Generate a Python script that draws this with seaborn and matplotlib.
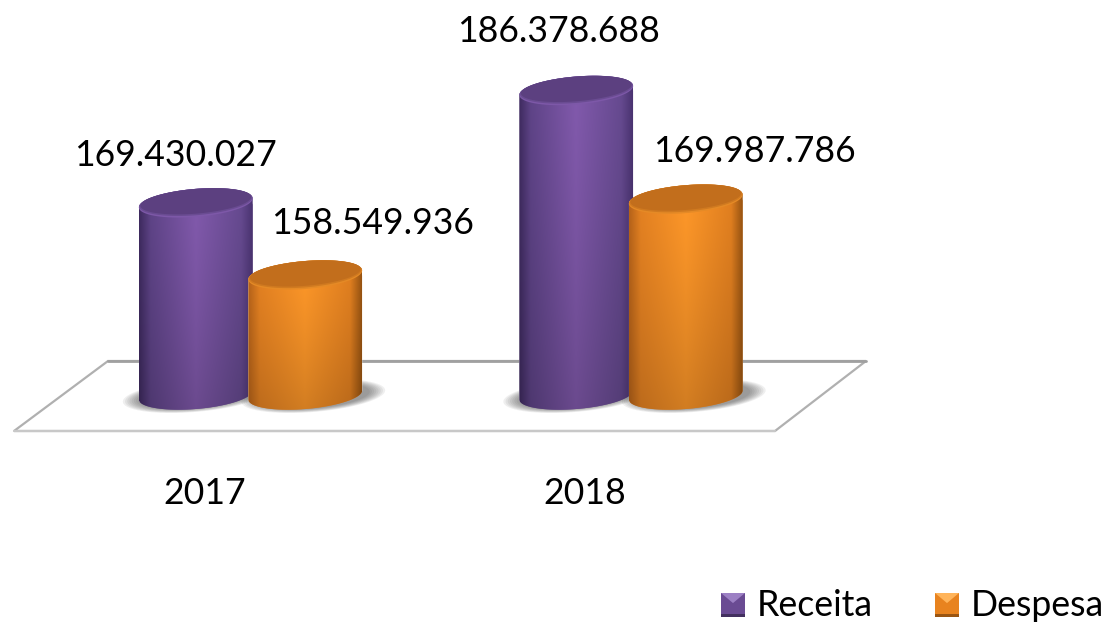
import numpy as np
import pandas as pd
import matplotlib
matplotlib.use("Agg")
import matplotlib.pyplot as plt
import seaborn as sns
from matplotlib.patches import Polygon
from matplotlib.transforms import Affine2D

# 1. data
years = ["2017", "2018"]
series_names = ["Receita", "Despesa"]
receita = [169430027, 186378688]
despesa = [158549936, 169987786]

purple_shades = ["#3f2b60", "#5f4488", "#825aad", "#664a90", "#4b3472"]
orange_shades = ["#b8641a", "#e58222", "#ff9829", "#e28020", "#9a5512"]

df = pd.DataFrame({
    "year": years * 2,
    "serie": [series_names[0]] * 2 + [series_names[1]] * 2,
    "valor": receita + despesa,
})

# 2. layout, all in pixels of the 1106x624 target
W, H = 1106, 624
PX_PER_UNIT = 6.63e-6
REF_VALUE, REF_Y = 158549936, 275
BASE_Y = 395
X0, X_STEP = 250.5, 380.5
FONT_SIZE = 25.7

sns.set_theme(style="white")
plt.rcParams["font.family"] = ["Lato", "DejaVu Sans"]

fig = plt.figure(figsize=(W / 100, H / 100), dpi=100)
ax = fig.add_axes([0, 0, 1, 1])

sns.barplot(data=df, x="year", y="valor", hue="serie", order=years, hue_order=series_names,
            palette=["#6a4b93", "#e8831f"], width=2 * 109.5 / X_STEP, gap=-0.04,
            legend=False, ax=ax)

ax.set_xlim(-X0 / X_STEP, (W - X0) / X_STEP)
ax.set_ylim(REF_VALUE - (H - REF_Y) / PX_PER_UNIT, REF_VALUE + REF_Y / PX_PER_UNIT)
ax.set_autoscale_on(False)
ax.axis("off")

# target pixels (y down) -> display
px = Affine2D().scale(1, -1).translate(0, H)


def to_target(x, y):
    dx, dy = ax.transData.transform((x, y))
    return dx, H - dy


def ellipse(cx, cy, a, b, skew, t0=0, t1=2 * np.pi, n=80):
    t = np.linspace(t0, t1, n)
    xs = a * np.cos(t)
    return np.column_stack([cx + xs, cy + b * np.sin(t) - skew * xs])


def shade(colors, height=60, width=120, fade=0.82):
    stops = [0, 0.1, 0.5, 0.9, 1]
    rgb = np.array([matplotlib.colors.to_rgb(c) for c in colors])
    row = np.column_stack([np.interp(np.linspace(0, 1, width), stops, rgb[:, i]) for i in range(3)])
    down = (1 - (1 - fade) * np.linspace(0, 1, height) ** 1.3)[:, None, None]
    return row[None, :, :] * down


# 3. floor
bars = list(ax.patches)
ax.add_patch(Polygon([(108, 361), (866, 361), (775, 431), (14, 431)], closed=True, facecolor="white",
                     edgecolor="#b0b0b0", linewidth=1.6, transform=px, zorder=1))
ax.plot([108, 866], [361, 361], color="#a0a0a0", lw=2, transform=px, zorder=1.1)
ax.plot([14, 775], [431, 431], color="#c8c8c8", lw=1.6, transform=px, zorder=1.1)

# 4. shadows, cylinders and labels on top of the seaborn bars
n_years = len(years)
label_dx = [-20, -18, 67, 69]
label_y = [155, 31, 223, 151]
values = receita + despesa
for i, bar in enumerate(bars):
    serie = i // n_years
    x_left, top_y = to_target(bar.get_x(), bar.get_height())
    x_right, _ = to_target(bar.get_x() + bar.get_width(), bar.get_height())
    cx, a = (x_left + x_right) / 2, (x_right - x_left) / 2
    b, skew = 14, 4.5 / 57
    z = 3 + i

    shift = 8 if serie == 1 else -1
    for k in range(8):
        ax.add_patch(Polygon(ellipse(cx + shift, BASE_Y + 1, a + 15 - 2.2 * k, b + 2 - 0.5 * k, skew),
                             closed=True, facecolor="#303030", edgecolor="none", alpha=0.075,
                             transform=px, zorder=2))

    upper = ellipse(cx, top_y, a, b, skew, np.pi, 2 * np.pi)
    lower = ellipse(cx, BASE_Y, a, b, skew, 0, np.pi)
    outline = Polygon(np.vstack([upper, lower]), closed=True, transform=px)

    colors = purple_shades if serie == 0 else orange_shades
    bar.set_zorder(z)
    bar.set_clip_path(outline.get_path(), px)

    img = ax.imshow(shade(colors), extent=(x_left, x_right, BASE_Y + b + 5, top_y - b - 5), aspect="auto",
                    transform=px, interpolation="bilinear", zorder=z + 0.1)
    img.set_clip_path(outline.get_path(), px)

    # lid of the cylinder, with a soft rim
    rim_color = "#7d58a8" if serie == 0 else "#e58a26"
    mid_color = "#6a4c92" if serie == 0 else "#d07a20"
    lid_color = "#5c4080" if serie == 0 else "#c26e1c"
    ax.add_patch(Polygon(ellipse(cx, top_y, a, b, skew), closed=True, facecolor=rim_color,
                         edgecolor="none", transform=px, zorder=z + 0.2))
    ax.add_patch(Polygon(ellipse(cx, top_y - 0.8, a - 0.5, b - 0.8, skew), closed=True, facecolor=mid_color,
                         edgecolor="none", transform=px, zorder=z + 0.3))
    ax.add_patch(Polygon(ellipse(cx, top_y - 1.6, a - 1.5, b - 1.6, skew), closed=True, facecolor=lid_color,
                         edgecolor="none", transform=px, zorder=z + 0.4))

    label = f"{values[i]:,}".replace(",", ".")
    ax.text(cx + label_dx[i], label_y[i], label, transform=px, ha="center", va="center",
            fontsize=FONT_SIZE, color="black", zorder=10)

# 5. category labels
for year, x_pos in zip(years, [205, 585]):
    ax.text(x_pos, 494, year, transform=px, ha="center", va="center", fontsize=FONT_SIZE, color="black")

# 6. legend with bevelled squares
legend_specs = [(721, 757, "#6a4b93", "#9c80c4", "#43305f"), (935, 971, "#e8831f", "#ffb45a", "#9a5512")]
for name, (sq_x, text_x, base, light, dark) in zip(series_names, legend_specs):
    s = 24
    y0 = 593
    ax.add_patch(Polygon([(sq_x, y0), (sq_x + s, y0), (sq_x + s, y0 + s), (sq_x, y0 + s)], closed=True,
                         facecolor=base, edgecolor="none", transform=px, zorder=5))
    ax.add_patch(Polygon([(sq_x, y0), (sq_x + s, y0), (sq_x + s / 2, y0 + s * 0.42)], closed=True,
                         facecolor=light, edgecolor="none", transform=px, zorder=6))
    ax.add_patch(Polygon([(sq_x, y0 + s - 3), (sq_x + s, y0 + s - 3), (sq_x + s, y0 + s), (sq_x, y0 + s)],
                         closed=True, facecolor=dark, edgecolor="none", transform=px, zorder=6))
    ax.text(text_x, 605, name, transform=px, ha="left", va="center", fontsize=FONT_SIZE, color="black")

fig.savefig("out.png", dpi=100, facecolor="white")
